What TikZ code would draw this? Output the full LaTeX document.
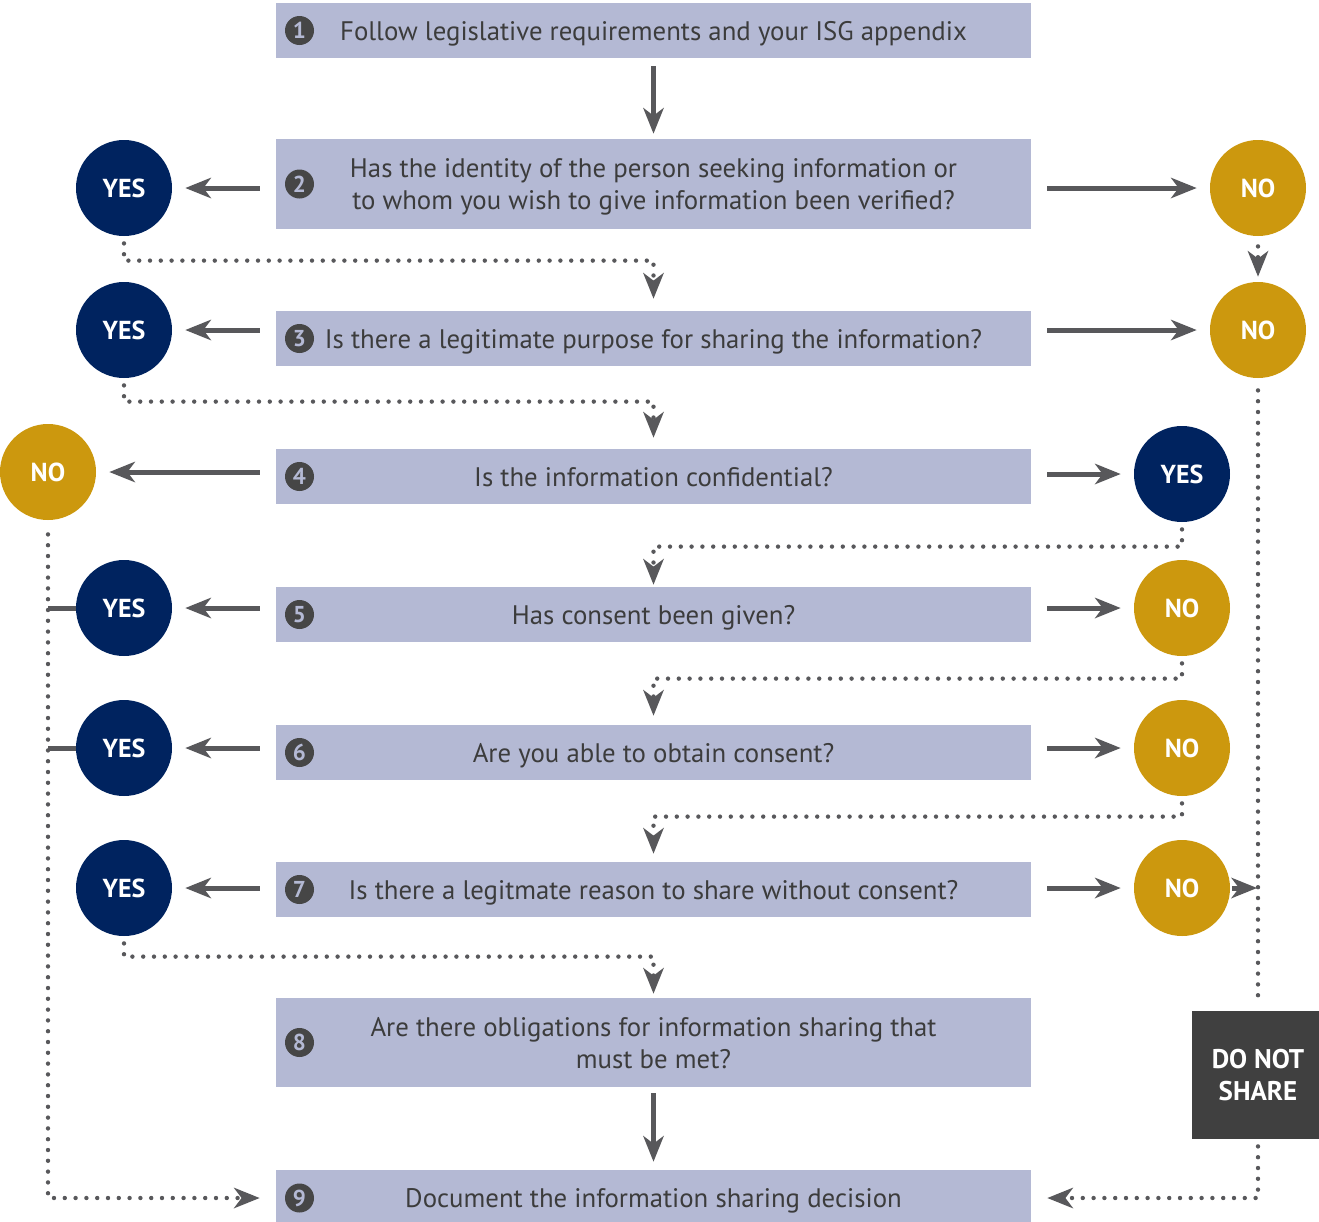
\documentclass[tikz,border=0pt]{standalone}
\usepackage{fontspec}
\setmainfont{PT Sans}
\usepackage{xcolor}
\usetikzlibrary{arrows.meta, positioning, calc}

\definecolor{boxfill}{HTML}{B4B9D4}
\definecolor{navy}{HTML}{00235F}
\definecolor{gold}{HTML}{CC980E}
\definecolor{arrowgray}{HTML}{58585B}
\definecolor{textgray}{HTML}{3C3C3C}
\definecolor{darkbox}{HTML}{404040}

\begin{document}
\begin{tikzpicture}[
  x=0.5pt,
  y=-0.5pt,
  font=\fontsize{13.4}{16}\selectfont,
  stepbox/.style={rectangle, fill=boxfill, text=textgray, minimum width=377.5pt, minimum height=27.5pt, align=center, inner sep=0pt, text depth=0pt},
  numdot/.style={circle, fill=textgray!95, text=boxfill, minimum size=14.5pt, inner sep=0pt, font=\fontsize{11.5}{11.5}\selectfont\bfseries},
  yes/.style={circle, fill=navy, text=white, minimum size=48pt, inner sep=0pt, font=\fontsize{13}{13}\selectfont\bfseries},
  no/.style={yes, fill=gold},
  stopbox/.style={rectangle, fill=darkbox, text=white, minimum width=66pt, minimum height=64pt, align=center, inner sep=0pt, font=\fontsize{13.5}{16}\selectfont\bfseries},
  tip/.style={-{Stealth[length=13pt, width=10.5pt, inset=4pt, line width=0pt]}},
  flow/.style={tip, draw=arrowgray, line width=2.5pt, shorten <=8pt, shorten >=6.5pt},
  link/.style={draw=arrowgray, line width=2.5pt},
  dotline/.style={draw=arrowgray, line width=2.2pt, line cap=round, dash pattern=on 0pt off 5.4pt},
  dotflow/.style={dotline, tip, shorten <=3.5pt, shorten >=1pt}
]

\useasboundingbox (0,0) rectangle (1319,1222);

% Question boxes
\node[stepbox] (q1) at (653.5,30.5) {Follow legislative requirements and your ISG appendix};
\node[stepbox, minimum height=45pt] (q2) at (653.5,184) {Has the identity of the person seeking information or\\to whom you wish to give information been verified?};
\node[stepbox] (q3) at (653.5,338.5) {Is there a legitimate purpose for sharing the information?};
\node[stepbox] (q4) at (653.5,476.5) {Is the information confidential?};
\node[stepbox] (q5) at (653.5,614.5) {Has consent been given?};
\node[stepbox] (q6) at (653.5,752.5) {Are you able to obtain consent?};
\node[stepbox] (q7) at (653.5,889.5) {Is there a legitmate reason to share without consent?};
\node[stepbox, minimum height=44.5pt] (q8) at (653.5,1042.5) {Are there obligations for information sharing that\\must be met?};
\node[stepbox, minimum height=28pt] (q9) at (653.5,1198) {Document the information sharing decision};

% Step numbers
\node[numdot, right=4.5pt of q1.west] (n1) {1};
\node[numdot, right=4.5pt of q2.west] (n2) {2};
\node[numdot, right=4.5pt of q3.west] (n3) {3};
\node[numdot, right=4.5pt of q4.west] (n4) {4};
\node[numdot, right=4.5pt of q5.west] (n5) {5};
\node[numdot, right=4.5pt of q6.west] (n6) {6};
\node[numdot, right=4.5pt of q7.west] (n7) {7};
\node[numdot, right=4.5pt of q8.west] (n8) {8};
\node[numdot, right=4.5pt of q9.west] (n9) {9};

% Answers, left side
\node[yes] (yes2) at (124,188) {YES};
\node[yes] (yes3) at (124,330) {YES};
\node[no] (no4) at (48,472) {NO};
\node[yes] (yes5) at (124,608) {YES};
\node[yes] (yes6) at (124,748) {YES};
\node[yes] (yes7) at (124,888) {YES};

% Answers, right side
\node[no] (no2) at (1258,188) {NO};
\node[no] (no3) at (1258,330) {NO};
\node[yes] (yes4) at (1182,474) {YES};
\node[no] (no5) at (1182,608) {NO};
\node[no] (no6) at (1182,748) {NO};
\node[no] (no7) at (1182,888) {NO};

\node[stopbox] (donot) at (1258,1075) {DO NOT\\SHARE};

% Straight flow
\draw[flow, shorten <=4pt, shorten >=2.5pt] (q1) -- (q2);
\draw[flow, shorten <=3pt, shorten >=4pt] (q8) -- (q9);

% Arrows to the answers
\draw[flow] (q2.west |- yes2) -- (yes2);
\draw[flow] (q2.east |- no2) -- (no2);
\draw[flow] (q3.west |- yes3) -- (yes3);
\draw[flow] (q3.east |- no3) -- (no3);
\draw[flow] (q4.west |- no4) -- (no4);
\draw[flow] (q4.east |- yes4) -- (yes4);
\draw[flow] (q5.west |- yes5) -- (yes5);
\draw[flow] (q5.east |- no5) -- (no5);
\draw[flow] (q6.west |- yes6) -- (yes6);
\draw[flow] (q6.east |- no6) -- (no6);
\draw[flow] (q7.west |- yes7) -- (yes7);
\draw[flow] (q7.east |- no7) -- (no7);

% Back into the next question (dotted)
\draw[dotflow, shorten >=6pt] (yes2) |- ($(q3.north)+(0,-50)$) -- (q3.north);
\draw[dotflow, shorten >=5.5pt] (yes3) |- ($(q4.north)+(0,-47)$) -- (q4.north);
\draw[dotflow] (yes4) |- ($(q5.north)+(0,-40)$) -- (q5.north);
\draw[dotflow, shorten >=4.5pt] (no5) |- ($(q6.north)+(0,-46)$) -- (q6.north);
\draw[dotflow, shorten >=4pt] (no6) |- ($(q7.north)+(0,-45)$) -- (q7.north);
\draw[dotflow, shorten >=2pt] (yes7) |- ($(q8.north)+(0,-41)$) -- (q8.north);

% Right column to DO NOT SHARE
\draw[dotflow, shorten <=5pt, shorten >=2.5pt] (no2) -- (no3);
\draw[dotline, shorten <=6pt, shorten >=5.5pt] (no3) -- (donot);
\draw[flow, shorten <=1pt, shorten >=0.5pt] (no7) -- (no7 -| donot);

% Into the final step
\draw[link] (yes5) -- (yes5 -| no4);
\draw[link] (yes6) -- (yes6 -| no4);
\draw[dotflow, shorten <=7pt, shorten >=8pt] (no4) |- (q9.west);
\draw[dotflow, shorten >=8pt] (donot) |- (q9.east);

\end{tikzpicture}
\end{document}
